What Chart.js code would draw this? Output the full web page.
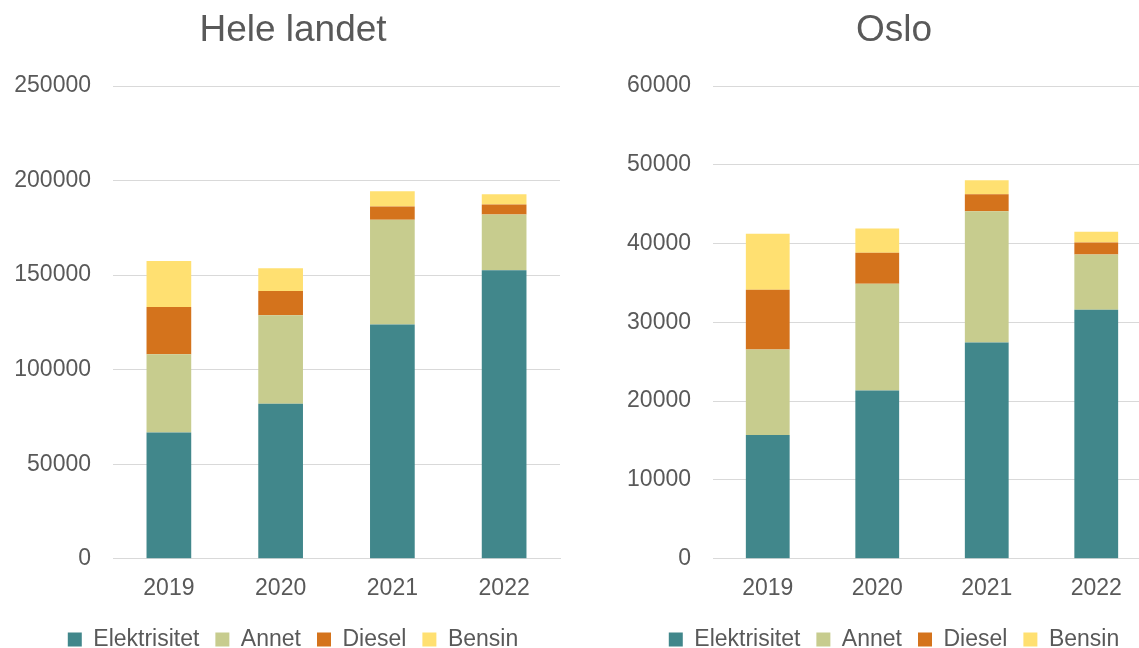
<!DOCTYPE html>
<html>
<head>
<meta charset="utf-8">
<script src="https://cdn.jsdelivr.net/npm/chart.js@4/dist/chart.umd.min.js"></script>
<style>
    html, body { margin: 0; padding: 0; background: #fff; overflow: hidden; width: 1139px; height: 648px; }
    #left { position: absolute; left: 0; top: 0; }
    #right { position: absolute; left: 570px; top: 0; }
</style>
</head>
<body>
<canvas id="left" width="570" height="661"></canvas>
<canvas id="right" width="581" height="661"></canvas>
<script>
/*global Chart*/
var years = ["2019", "2020", "2021", "2022"];
var fuels = ["Elektrisitet", "Annet", "Diesel", "Bensin"];
var fuelColors = ["#41878b", "#c7cc8e", "#d4731c", "#ffe071"];

// Hele landet
var landElektrisitet = [66700, 82000, 123800, 152500];
var landAnnet = [41400, 46700, 55400, 29500];
var landDiesel = [25000, 12900, 7050, 5300];
var landBensin = [24300, 12000, 8100, 5450];

// Oslo
var osloElektrisitet = [15700, 21350, 27450, 31600];
var osloAnnet = [10850, 13550, 16650, 7000];
var osloDiesel = [7600, 3950, 2150, 1550];
var osloBensin = [7100, 3050, 1800, 1350];

var textColor = "#595959";
var gridColor = "#d9d9d9";
var fontFamily = "'Liberation Sans', Arial, sans-serif";

// the y labels reach into the left padding, so do not clip them to the scale box
var labelRoom = {
    id: "labelRoom",
    afterLayout: function (chart) {
        chart.scales.y.left = 0;
    }
};

var makeChart = function (id, title, series, yMax, yStep, pad, yWidth, barPct) {
    var datasets = series.map(function (values, i) {
        return {
            label: fuels[i],
            data: values,
            backgroundColor: fuelColors[i],
            borderWidth: 0,
            barPercentage: barPct,
            categoryPercentage: 1
        };
    });

    return new Chart(document.getElementById(id), {
        type: "bar",
        data: { labels: years, datasets: datasets },
        plugins: [labelRoom],
        options: {
            responsive: false,
            animation: false,
            devicePixelRatio: 1,
            events: [],
            layout: { padding: { left: pad.left, right: pad.right, top: 0, bottom: 0 } },
            plugins: {
                title: {
                    display: true,
                    text: title,
                    color: textColor,
                    font: { family: fontFamily, size: 37, weight: "normal" },
                    padding: { top: 9, bottom: 32.6 }
                },
                legend: {
                    position: "bottom",
                    labels: {
                        color: textColor,
                        font: { family: fontFamily, size: 23 },
                        boxWidth: 14,
                        boxHeight: 14,
                        padding: 16
                    }
                },
                tooltip: { enabled: false }
            },
            scales: {
                x: {
                    stacked: true,
                    grid: { display: false, drawTicks: false },
                    border: { color: gridColor, width: 1 },
                    ticks: {
                        color: textColor,
                        font: { family: fontFamily, size: 23 },
                        padding: 16
                    },
                    afterFit: function (scale) {
                        scale.height = 53.3;
                    }
                },
                y: {
                    stacked: true,
                    min: 0,
                    max: yMax,
                    grid: { color: gridColor, lineWidth: 1, drawTicks: false },
                    border: { display: false },
                    ticks: {
                        stepSize: yStep,
                        color: textColor,
                        font: { family: fontFamily, size: 23 },
                        padding: 22,
                        callback: function (value) {
                            return String(value);
                        }
                    },
                    afterFit: function (scale) {
                        scale.width = yWidth;
                    }
                }
            }
        }
    });
};

makeChart("left", "Hele landet",
    [landElektrisitet, landAnnet, landDiesel, landBensin],
    250000, 50000, { left: 26, right: 10 }, 87, 0.4);

// the Oslo plot runs past the window edge, as in the reference
makeChart("right", "Oslo",
    [osloElektrisitet, osloAnnet, osloDiesel, osloBensin],
    60000, 10000, { left: 67, right: 0 }, 76, 0.4);
</script>
</body>
</html>
